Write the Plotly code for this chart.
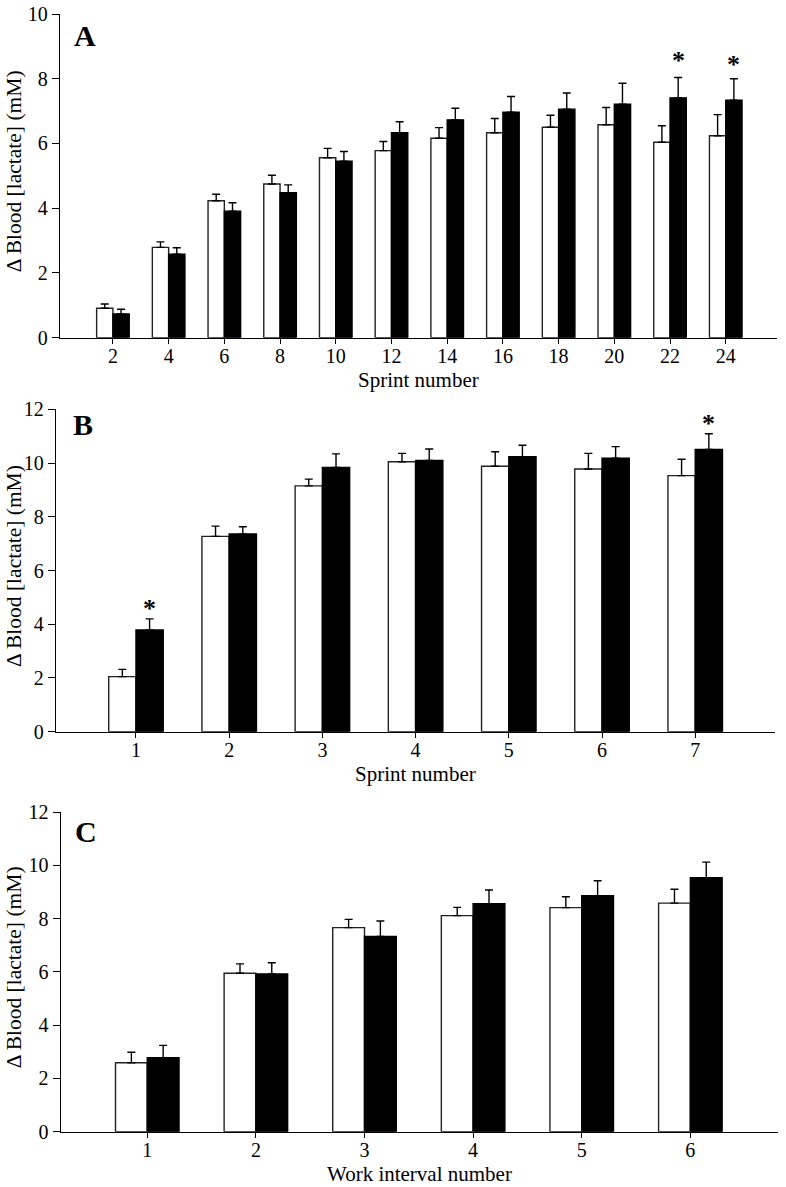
import plotly.graph_objects as go

# ---------------- data ----------------
A_sprint = [2, 4, 6, 8, 10, 12, 14, 16, 18, 20, 22, 24]
A_white = [0.91, 2.79, 4.23, 4.75, 5.56, 5.78, 6.16, 6.33, 6.50, 6.58, 6.04, 6.24]
A_white_err = [0.13, 0.17, 0.20, 0.27, 0.29, 0.28, 0.33, 0.44, 0.37, 0.53, 0.51, 0.65]
A_black = [0.73, 2.58, 3.91, 4.48, 5.45, 6.33, 6.73, 6.97, 7.06, 7.21, 7.41, 7.34]
A_black_err = [0.15, 0.20, 0.26, 0.24, 0.30, 0.34, 0.36, 0.48, 0.50, 0.65, 0.63, 0.66]
A_star_x = [22, 24]
A_star_y = [8.73, 8.60]

B_sprint = [1, 2, 3, 4, 5, 6, 7]
B_white = [2.05, 7.27, 9.15, 10.05, 9.88, 9.78, 9.53]
B_white_err = [0.27, 0.38, 0.25, 0.31, 0.54, 0.58, 0.61]
B_black = [3.79, 7.36, 9.84, 10.10, 10.24, 10.18, 10.51]
B_black_err = [0.41, 0.27, 0.50, 0.42, 0.42, 0.43, 0.58]
B_star_x = [1, 7]
B_star_y = [4.78, 11.67]

C_interval = [1, 2, 3, 4, 5, 6]
C_white = [2.59, 5.95, 7.66, 8.11, 8.41, 8.58]
C_white_err = [0.39, 0.35, 0.31, 0.31, 0.41, 0.52]
C_black = [2.78, 5.92, 7.33, 8.56, 8.86, 9.53]
C_black_err = [0.46, 0.42, 0.58, 0.51, 0.56, 0.59]

Y_TITLE = "Δ Blood [lactate] (mM)"
FONT = "Liberation Serif, Times New Roman, serif"

W, H = 786, 1187


def fx(px):
    return px / W


def fy(py):
    return 1 - py / H


fig = go.Figure()

panels = [
    dict(x=A_sprint, w=A_white, we=A_white_err, b=A_black, be=A_black_err, sp=2,
         xd=(60, 777), yd=(14, 337.7), xr=(0.1, 25.84), yr=(0, 10),
         xt="Sprint number", letter="A", lpos=(85, 33), stars=(A_star_x, A_star_y)),
    dict(x=B_sprint, w=B_white, we=B_white_err, b=B_black, be=B_black_err, sp=1,
         xd=(56, 775), yd=(409.3, 731.7), xr=(0.142, 7.856), yr=(0, 12),
         xt="Sprint number", letter="B", lpos=(83, 422.5), stars=(B_star_x, B_star_y)),
    dict(x=C_interval, w=C_white, we=C_white_err, b=C_black, be=C_black_err, sp=1,
         xd=(60.7, 778), yd=(812, 1131.7), xr=(0.203, 6.807), yr=(0, 12),
         xt="Work interval number", letter="C", lpos=(86, 829), stars=([], [])),
]

annotations = []
for i, p in enumerate(panels):
    n = i + 1
    xa = "x" if n == 1 else f"x{n}"
    ya = "y" if n == 1 else f"y{n}"
    bw = 0.2925 * p["sp"]
    err_common = dict(type="data", symmetric=False, color="black", thickness=1.4, width=4)
    fig.add_trace(go.Bar(
        x=p["x"], y=p["w"], xaxis=xa, yaxis=ya, width=bw, offset=-bw,
        marker=dict(color="white", line=dict(color="#222222", width=1.4)),
        error_y=dict(array=p["we"], arrayminus=[0] * len(p["we"]), **err_common),
        showlegend=False, hoverinfo="skip",
    ))
    fig.add_trace(go.Bar(
        x=p["x"], y=p["b"], xaxis=xa, yaxis=ya, width=bw, offset=0,
        marker=dict(color="black", line=dict(color="black", width=1.4)),
        error_y=dict(array=p["be"], arrayminus=[0] * len(p["be"]), **err_common),
        showlegend=False, hoverinfo="skip",
    ))
    sx, sy = p["stars"]
    for xs, ys in zip(sx, sy):
        annotations.append(dict(x=xs + bw / 2, y=ys, xref=xa, yref=ya, text="<b>*</b>",
                                showarrow=False, font=dict(family=FONT, size=26, color="black"),
                                xanchor="center", yanchor="middle", yshift=-5))

    x0, x1 = p["xd"]
    y0, y1 = p["yd"]
    axis_common = dict(showline=True, linecolor="black", linewidth=1.4, ticks="outside",
                       tickcolor="black", tickwidth=1.4, showgrid=False, zeroline=False,
                       ticklabeloverflow="allow",
                       tickfont=dict(family=FONT, size=20, color="black"))
    fig.layout[("xaxis" if n == 1 else f"xaxis{n}")] = dict(
        domain=[fx(x0), fx(x1)], anchor=ya, range=list(p["xr"]),
        tickvals=p["x"], ticktext=[str(v) for v in p["x"]], ticklen=5,
        ticklabelstandoff=-5, **axis_common)
    fig.layout[("yaxis" if n == 1 else f"yaxis{n}")] = dict(
        domain=[fy(y1), fy(y0)], anchor=xa, range=list(p["yr"]), dtick=2,
        ticklen=7, **axis_common)

    annotations.append(dict(x=fx(13.5), y=fy((y0 + y1) / 2 - 4), xref="paper", yref="paper",
                            text=Y_TITLE, textangle=-90, showarrow=False,
                            font=dict(family=FONT, size=21.5, color="black"),
                            xanchor="center", yanchor="middle"))
    annotations.append(dict(x=fx((x0 + x1) / 2), y=fy(y1 + 42), xref="paper", yref="paper",
                            text=p["xt"], showarrow=False,
                            font=dict(family=FONT, size=21, color="black"),
                            xanchor="center", yanchor="middle"))
    lx, ly = p["lpos"]
    annotations.append(dict(x=fx(lx), y=fy(ly + 2), xref="paper", yref="paper",
                            text=f"<b>{p['letter']}</b>", showarrow=False,
                            font=dict(family=FONT, size=30, color="black"),
                            xanchor="center", yanchor="middle"))

fig.update_layout(
    width=W, height=H, margin=dict(l=0, r=0, t=0, b=0, pad=0, autoexpand=False),
    paper_bgcolor="white", plot_bgcolor="white",
    barmode="overlay", annotations=annotations,
    font=dict(family=FONT, color="black"),
)

fig.write_html("out.html", config={"responsive": False, "displayModeBar": False},
               post_script="document.body.style.margin='0';document.body.style.overflow='hidden';")
